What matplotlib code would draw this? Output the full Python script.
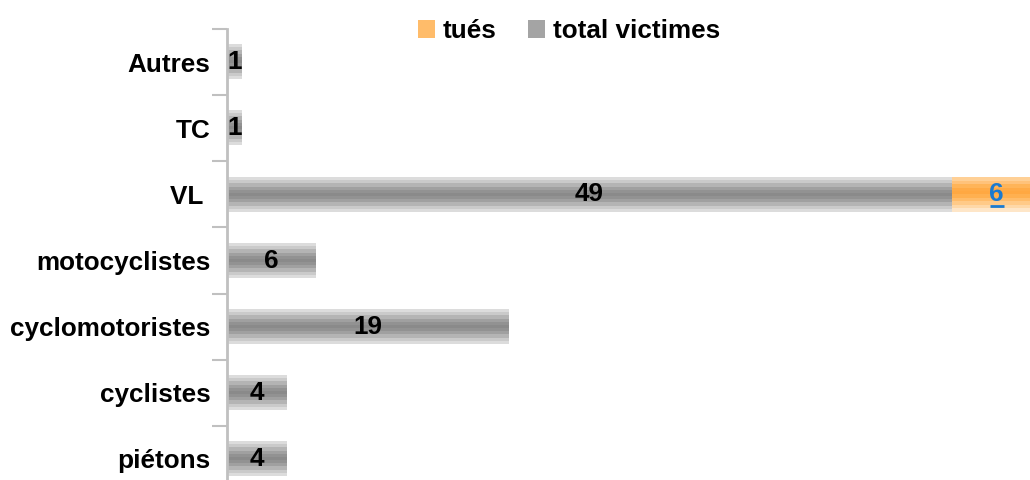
import numpy as np
import matplotlib.pyplot as plt
from matplotlib.colors import ListedColormap
from matplotlib.patches import Patch

categories = ['piétons', 'cyclistes', 'cyclomotoristes', 'motocyclistes', 'VL ', 'TC', 'Autres']
total_victimes = [4, 4, 19, 6, 49, 1, 1]
tues = [0, 0, 0, 0, 6, 0, 0]

plt.rcParams['font.family'] = ['Liberation Sans', 'DejaVu Sans']
plt.rcParams['font.weight'] = 'bold'
FS = 18.8

# banded fills, top to bottom of each bar
gray_bands = ['#dcdcdc', '#cacaca', '#b4b4b4', '#a0a0a0', '#929292', '#8a8a8a',
              '#929292', '#a0a0a0', '#b4b4b4', '#cacaca', '#dcdcdc']
orange_bands = ['#fee6c8', '#fed8a8', '#ffca88', '#ffbc6a', '#ffb050', '#ffa842',
                '#ffaa46', '#ffb458', '#ffc27a', '#ffd096']
gray_cmap = ListedColormap(gray_bands)
orange_cmap = ListedColormap(orange_bands)

fig = plt.figure(figsize=(10.3, 4.8), dpi=100)
ax = fig.add_axes([227 / 1030, -12 / 480, 60 * 14.8 / 1030, 463 / 480])

y = np.arange(len(categories))
h = 0.52


def gradient_bars(bars, cmap):
    for rect in bars:
        w = rect.get_width()
        if w <= 0:
            continue
        x0, y0 = rect.get_x(), rect.get_y()
        grad = np.linspace(1, 0, 256).reshape(-1, 1)
        ax.imshow(grad, cmap=cmap, aspect='auto', interpolation='nearest',
                  extent=(x0, x0 + w, y0, y0 + rect.get_height()), zorder=2)


b1 = ax.barh(y, total_victimes, height=h, facecolor='none', edgecolor='none')
b2 = ax.barh(y, tues, left=total_victimes, height=h, facecolor='none', edgecolor='none')
gradient_bars(b1, gray_cmap)
gradient_bars(b2, orange_cmap)

for i, v in enumerate(total_victimes):
    ax.text(v / 2, i, str(v), ha='center', va='center', fontsize=FS,
            fontweight='bold', color='black', zorder=3)
for i, v in enumerate(tues):
    if v:
        xc = total_victimes[i] + v / 2
        ax.text(xc, i, str(v), ha='center', va='center',
                fontsize=FS, fontweight='bold', color='#1a7ad0', zorder=3)
        # underline like a hyperlink
        ax.plot([xc - 0.47, xc + 0.47], [i - 0.17, i - 0.17],
                color='#1a7ad0', lw=2, solid_capstyle='butt', zorder=3)

ax.set_xlim(0, 60)
ax.set_ylim(-0.5, 6.5)
ax.set_yticks(np.arange(-0.5, 7, 1))
ax.set_yticklabels([])
ax.set_yticks(y, minor=True)
ax.set_yticklabels(categories, minor=True, fontsize=FS, fontweight='bold')
ax.tick_params(axis='y', which='major', length=11, width=1.5, color='#c0c0c0')
ax.tick_params(axis='y', which='minor', length=0, pad=12)
ax.set_xticks([])
for s in ['top', 'right', 'bottom']:
    ax.spines[s].set_visible(False)
ax.spines['left'].set_color('#c0c0c0')
ax.spines['left'].set_linewidth(2)
ax.spines['left'].set_zorder(4)

handles = [Patch(facecolor='#ffbc6a', edgecolor='none', label='tués'),
           Patch(facecolor='#a4a4a4', edgecolor='none', label='total victimes')]
fig.legend(handles=handles, loc='center', bbox_to_anchor=(569 / 1030, 1 - 31 / 480),
           ncol=2, frameon=False, handlelength=0.65, handleheight=0.65,
           handletextpad=0.3, columnspacing=1.2, prop={'weight': 'bold', 'size': FS})

fig.savefig('out.png', dpi=100)
